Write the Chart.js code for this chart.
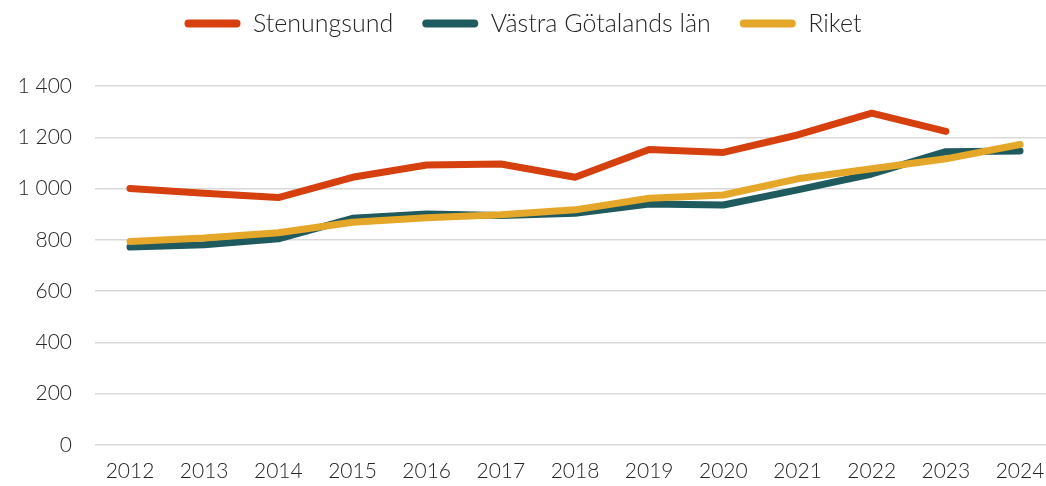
<!DOCTYPE html>
<html>
<head>
<meta charset="utf-8">
<script src="https://cdn.jsdelivr.net/npm/chart.js@4/dist/chart.umd.min.js"></script>
<style>
html,body{margin:0;padding:0;background:#fff;}
#wrap{width:1046px;height:486px;position:relative;}
</style>
</head>
<body>
<div id="wrap"><canvas id="c"></canvas></div>
<script>
const years = ['2012','2013','2014','2015','2016','2017','2018','2019','2020','2021','2022','2023','2024'];
const stenungsund = [1000, 982, 965, 1044, 1092, 1096, 1044, 1152, 1141, 1209, 1294, 1223, null];
const vastraGotaland = [772, 781, 804, 884, 901, 895, 904, 940, 936, 995, 1057, 1144, 1147];
const riket = [794, 807, 828, 869, 886, 898, 917, 962, 975, 1038, 1077, 1116, 1172];
const yTicks = [0, 200, 400, 600, 800, 1000, 1200, 1400];

const toPts = arr => arr.map((v, i) => ({x: i, y: v}));
const FONT = "Lato";
const TXT = '#262626';

function ds(label, data, color, order) {
  return {
    label, data: toPts(data), borderColor: color, backgroundColor: color,
    borderWidth: 7, pointRadius: 0, borderCapStyle: 'round', borderJoinStyle: 'round',
    tension: 0, spanGaps: false, order
  };
}

const legendMargin = {
  id: 'legendMargin',
  beforeInit(chart) {
    const orig = chart.legend.fit;
    chart.legend.fit = function () {
      orig.bind(chart.legend)();
      this.height += 40;
    };
  }
};

new Chart(document.getElementById('c'), {
  type: 'line',
  data: {
    datasets: [
      ds('Stenungsund', stenungsund, '#d6400f', 0),
      ds('Västra Götalands län', vastraGotaland, '#1f5a5f', 2),
      ds('Riket', riket, '#e5a72a', 1)
    ]
  },
  plugins: [legendMargin],
  options: {
    responsive: true, maintainAspectRatio: false, animation: false,
    layout: {padding: {left: 0, right: 0, top: -18, bottom: 0}},
    plugins: {
      tooltip: {enabled: false},
      legend: {
        position: 'top',
        labels: {
          font: {family: FONT, size: 25, weight: 300},
          color: TXT,
          boxWidth: 56, boxHeight: 8, useBorderRadius: true, borderRadius: 4,
          padding: 29,
          generateLabels(chart) {
            return chart.data.datasets.map((d, i) => ({
              text: d.label, fillStyle: d.borderColor, strokeStyle: d.borderColor,
              lineWidth: 0, hidden: false, datasetIndex: i, fontColor: TXT,
              borderRadius: 4
            }));
          }
        }
      }
    },
    scales: {
      x: {
        type: 'linear', min: -0.472, max: 12.35,
        grid: {display: false},
        border: {display: false},
        afterFit: axis => { axis.height = 41; axis.paddingLeft = 0; axis.paddingRight = 0; },
        ticks: {
          includeBounds: false, stepSize: 1, autoSkip: false, maxRotation: 0,
          font: {family: FONT, size: 21, weight: 300}, color: TXT, padding: 6,
          callback: v => Number.isInteger(v) ? years[v] : ''
        }
      },
      y: {
        min: 0, max: 1400,
        afterBuildTicks: axis => { axis.ticks = yTicks.map(v => ({value: v})); },
        afterFit: axis => { axis.width = 95; },
        grid: {color: '#d9d9d9', lineWidth: 1.5, drawTicks: false},
        border: {display: false},
        ticks: {
          font: {family: FONT, size: 21, weight: 300}, color: TXT, padding: 23,
          callback: v => String(v).replace(/\B(?=(\d{3})+(?!\d))/g, ' ')
        }
      }
    }
  }
});
</script>
</body>
</html>
